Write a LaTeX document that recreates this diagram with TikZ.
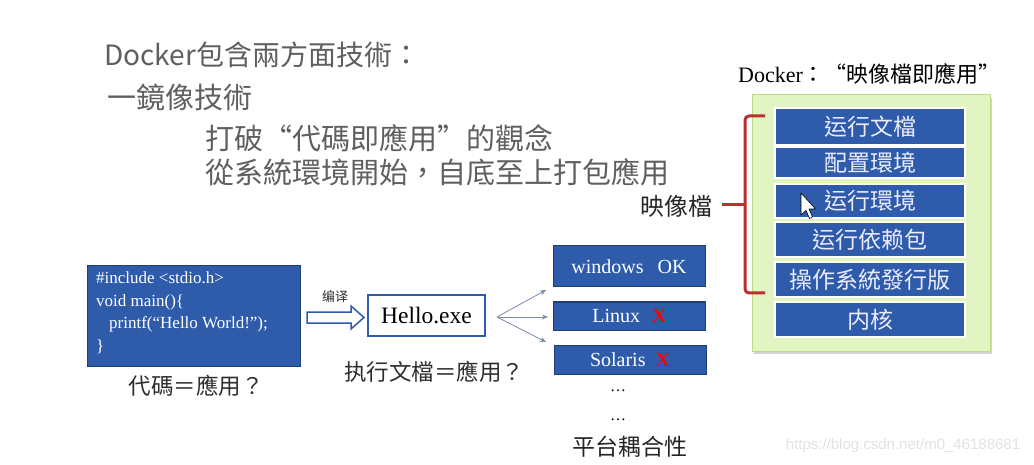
\documentclass[tikz,border=0pt]{standalone}
\usepackage{fontspec}
\setmainfont{Liberation Serif}
\newfontfamily\cjk{Noto Sans CJK TC}
\newfontfamily\wmfont{Liberation Sans}
\usetikzlibrary{arrows.meta,shadows}
\definecolor{boxblue}{RGB}{46,92,170}
\definecolor{darkblue}{RGB}{30,62,120}
\definecolor{greenfill}{RGB}{226,243,196}
\definecolor{greenborder}{RGB}{186,220,130}
\definecolor{headgray}{RGB}{95,95,95}
\definecolor{labelgray}{RGB}{45,45,45}
\definecolor{bracketred}{RGB}{185,48,48}
\definecolor{fangray}{RGB}{120,140,170}
\definecolor{wmgray}{RGB}{226,226,226}
\begin{document}
\begin{tikzpicture}[x=1pt,y=-1pt,
  heading/.style={anchor=west, text=headgray, font=\cjk\fontsize{29}{32}\selectfont, inner sep=0pt},
  layer/.style={fill=boxblue, draw=white, line width=1.5pt, text=white!92!blue,
    font=\cjk\fontsize{23}{25}\selectfont, minimum width=190pt, inner sep=0pt},
  plat/.style={fill=boxblue, draw=darkblue, line width=1pt, text=white,
    font=\fontsize{20}{22}\selectfont, minimum width=152pt, inner sep=0pt},
  label/.style={text=labelgray, font=\cjk\fontsize{22.5}{25}\selectfont, inner sep=0pt},
  fanline/.style={draw=fangray, line width=0.8pt, -{Stealth[length=6pt,width=5pt]}},
  bracket/.style={draw=bracketred, line width=3pt, rounded corners=4pt}
]
\useasboundingbox (0,0) rectangle (1034,465);

% headings
\node[heading, font=\cjk\fontsize{28}{32}\selectfont] (h1) at (104,55) {Docker包含兩方面技術：};
\node[heading] (h2) at (107,97) {一鏡像技術};
\node[heading] (h3) at (205,138) {打破“代碼即應用”的觀念};
\node[heading] (h4) at (205,172) {從系統環境開始，自底至上打包應用};

% right panel
\node[anchor=west, inner sep=0pt, font=\fontsize{22}{24}\selectfont] (title) at (738,74)
  {Docker{\cjk ：“映像檔即應用”}};
\node[fill=greenfill, draw=greenborder, line width=1pt,
  drop shadow={shadow xshift=2pt, shadow yshift=-3pt, opacity=0.35},
  minimum width=238pt, minimum height=256pt, inner sep=0pt] (gbox) at (871,223) {};
\node[layer, minimum height=37pt] (l1) at (870,126.5) {运行文檔};
\node[layer, minimum height=31pt] (l2) at (870,162.5) {配置環境};
\node[layer, minimum height=34pt] (l3) at (870,201) {运行環境};
\node[layer, minimum height=35pt] (l4) at (870,239.5) {运行依赖包};
\node[layer, minimum height=35pt] (l5) at (870,279.5) {操作系統發行版};
\node[layer, minimum height=35pt] (l6) at (870,319.5) {内核};

% bracket
\draw[bracket] (765,116) -- (745,116) -- (745,293) -- (765,293);
\draw[draw=bracketred, line width=3pt] (745,205) -- (722,205);
\node[label, text=black!85, font=\cjk\fontsize{24}{26}\selectfont] (img) at (676,206) {映像檔};

% mouse cursor
\draw[fill=white, draw=black, line width=0.6pt, line join=round]
  (801,193) -- (801,215) -- (806,210.5) -- (809.5,218.5) -- (812.5,217) -- (809,209) -- (815.5,209) -- cycle;

% code box
\node[fill=boxblue, draw=darkblue, line width=1pt, minimum width=213pt, minimum height=100pt, inner sep=0pt] (code) at (194,316) {};
\node[anchor=north west, align=left, text=white, inner sep=0pt,
  font=\fontsize{17}{22.5}\selectfont] (codetext) at (96,272)
  {\#include <stdio.h>\\
   void main()\{\\
   \hspace*{13pt}printf(“Hello World!”);\\
   \}};
\node[label] (c1) at (196,386) {代碼＝應用？};

% compile arrow
\draw[draw=boxblue, fill=white, line width=1.5pt, line join=miter]
  (307,312) -- (351,312) -- (351,306) -- (364,317.5) -- (351,329) -- (351,323) -- (307,323) -- cycle;
\node[text=labelgray, font=\cjk\fontsize{13}{15}\selectfont, inner sep=0pt] (bianyi) at (335,297) {编译};

% hello box
\node[draw=boxblue, line width=1.5pt, fill=white, minimum width=117pt, minimum height=41pt, inner sep=0pt,
  font=\fontsize{23.5}{26}\selectfont] (hello) at (426.5,315.5) {Hello.exe};
\node[label] (c2) at (434,372) {执行文檔＝應用？};

% platforms
\node[plat, minimum height=41pt] (win) at (629,266.5) {windows\hspace{14pt}OK};
\node[plat, minimum height=28pt] (linux) at (629.5,316) {Linux\hspace{12pt}{\color{red}\textbf{X}}};
\node[plat, minimum height=29pt] (sol) at (630,359.5) {Solaris\hspace{10pt}{\color{red}\textbf{X}}};

% fan
\coordinate (fan) at (497,317);
\coordinate (t1) at (546,290);
\coordinate (t2) at (548,317);
\coordinate (t3) at (546,342);
\draw[fanline] (fan) -- (t1);
\draw[fanline] (fan) -- (t2);
\draw[fanline] (fan) -- (t3);

\node[inner sep=0pt, font=\fontsize{16}{18}\selectfont] (d1) at (618,391) {\ldots};
\node[inner sep=0pt, font=\fontsize{16}{18}\selectfont] (d2) at (618,420) {\ldots};
\node[label, text=black!85, font=\cjk\fontsize{23}{25}\selectfont] (ptf) at (630,447) {平台耦合性};

% watermark
\node[text=wmgray, font=\wmfont\fontsize{15}{17}\selectfont, inner sep=0pt] (wm) at (903,446) {https://blog.csdn.net/m0\_46188681};
\end{tikzpicture}
\end{document}
